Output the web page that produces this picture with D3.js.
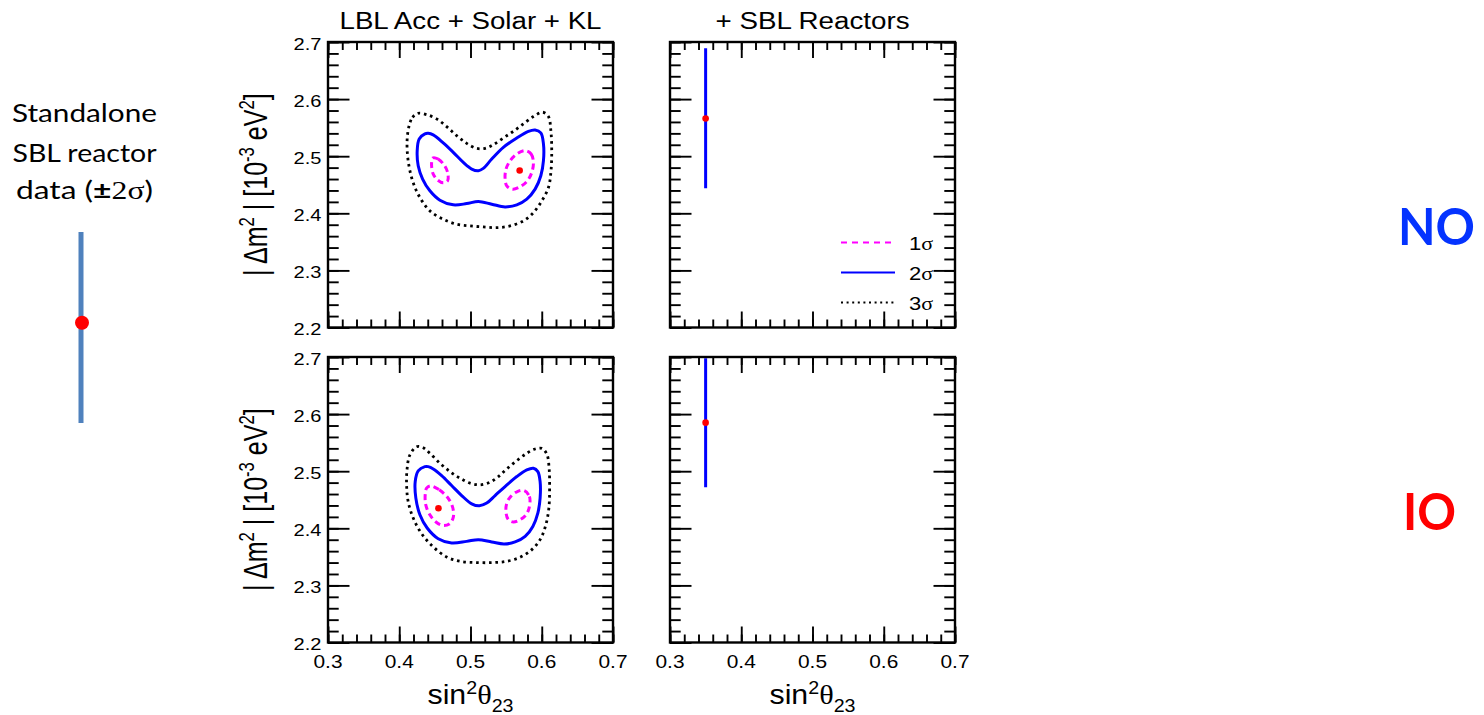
<!DOCTYPE html>
<html>
<head>
<meta charset="utf-8">
<script src="https://cdn.jsdelivr.net/npm/d3@7"></script>
<style>
  body { margin: 0; background: #fff; }
  svg { display: block; }
</style>
</head>
<body>
<svg id="fig" width="1484" height="715"></svg>
<script>
// ---- axis definitions ----
const xDomain = [0.3, 0.7];
const yDomain = [2.2, 2.7];
const xMajorTicks = [0.3, 0.4, 0.5, 0.6, 0.7];
const yMajorTicks = [2.2, 2.3, 2.4, 2.5, 2.6, 2.7];
const panelTitles = ["LBL Acc + Solar + KL", "+ SBL Reactors"];
const legendLevels = ["1", "2", "3"];
const orderingLabels = ["NO", "IO"];

// ---- allowed regions, normal ordering: [sin^2(theta23), |dm^2| (1e-3 eV^2)] ----
const noSigma1Left = [[0.4468,2.4968],[0.4547,2.495],[0.4627,2.4851],[0.4679,2.4715],[0.4679,2.457],[0.4617,2.4534],[0.4539,2.4582],[0.4477,2.4687],[0.4454,2.4833],[0.4458,2.4933]];
const noSigma1Right = [[0.5767,2.5097],[0.5851,2.5039],[0.5883,2.4891],[0.586,2.4715],[0.5799,2.457],[0.5696,2.4464],[0.5588,2.4423],[0.5509,2.4482],[0.5485,2.4617],[0.5499,2.4775],[0.5556,2.4921],[0.565,2.5039]];
const noSigma2 = [[0.4360,2.539],[0.4280,2.5302],[0.4252,2.5097],[0.4266,2.4833],[0.4328,2.460],[0.4430,2.4394],[0.4571,2.423],[0.4758,2.4148],[0.4946,2.417],[0.5110,2.4206],[0.5298,2.416],[0.5485,2.4112],[0.5650,2.4148],[0.5790,2.4248],[0.5907,2.4423],[0.5987,2.4657],[0.6024,2.4921],[0.6024,2.5214],[0.5987,2.5408],[0.5907,2.546],[0.5813,2.5436],[0.5650,2.532],[0.5461,2.5155],[0.5298,2.495],[0.518,2.4786],[0.511,2.4745],[0.5017,2.4775],[0.4899,2.4891],[0.4758,2.5067],[0.4617,2.5232],[0.4477,2.5373],[0.4406,2.540]];
const noSigma3 = [[0.4139,2.5536],[0.4187,2.5682],[0.4266,2.5752],[0.4384,2.5729],[0.4525,2.5654],[0.4665,2.5518],[0.4806,2.536],[0.4946,2.5225],[0.5087,2.5137],[0.5204,2.5137],[0.5321,2.5202],[0.5461,2.532],[0.5602,2.5436],[0.5743,2.5566],[0.5883,2.5694],[0.6015,2.577],[0.6094,2.5694],[0.6128,2.5448],[0.614,2.5097],[0.613,2.4745],[0.6094,2.4452],[0.6001,2.4218],[0.5883,2.4012],[0.5743,2.3867],[0.5556,2.3779],[0.5368,2.3749],[0.518,2.3761],[0.4993,2.3779],[0.4806,2.3808],[0.4617,2.3896],[0.443,2.4042],[0.429,2.4276],[0.4187,2.457],[0.4125,2.4921],[0.411,2.5272]];
const noBestFit = [0.569, 2.475];

// ---- allowed regions, inverted ordering ----
const ioSigma1Left = [[0.444,2.4743],[0.4561,2.4674],[0.4679,2.4539],[0.475,2.4365],[0.4758,2.419],[0.4702,2.4075],[0.4609,2.4051],[0.4515,2.411],[0.443,2.4237],[0.4374,2.44],[0.4364,2.4586],[0.4384,2.4703]];
const ioSigma1Right = [[0.5752,2.4661],[0.5827,2.4557],[0.5827,2.4382],[0.5781,2.4237],[0.5696,2.415],[0.5602,2.411],[0.5532,2.415],[0.5499,2.4267],[0.5509,2.4442],[0.5565,2.4557],[0.5658,2.4644]];
const ioSigma2 = [[0.4360,2.5080],[0.4266,2.5005],[0.4224,2.4818],[0.4233,2.4529],[0.429,2.4237],[0.4392,2.4005],[0.4547,2.3818],[0.4735,2.3743],[0.4946,2.3771],[0.511,2.3801],[0.5298,2.3761],[0.5471,2.3726],[0.5626,2.3761],[0.5767,2.3859],[0.5875,2.4033],[0.5945,2.4267],[0.5977,2.4529],[0.5977,2.4818],[0.5945,2.4993],[0.5883,2.5052],[0.579,2.5023],[0.565,2.4906],[0.5485,2.4731],[0.5345,2.4574],[0.5228,2.4442],[0.5124,2.4394],[0.5017,2.4429],[0.4876,2.4574],[0.4735,2.4749],[0.4595,2.4923],[0.4477,2.504],[0.4406,2.508]];
const ioSigma3 = [[0.4149,2.5284],[0.4243,2.5429],[0.4336,2.5412],[0.443,2.5314],[0.4571,2.514],[0.4712,2.4993],[0.4852,2.4878],[0.4993,2.4791],[0.5134,2.4761],[0.5274,2.4808],[0.5391,2.4906],[0.5509,2.504],[0.565,2.5185],[0.579,2.5314],[0.5907,2.5389],[0.6001,2.54],[0.6072,2.5297],[0.6104,2.504],[0.611,2.4703],[0.61,2.4354],[0.6058,2.4063],[0.5977,2.3801],[0.5861,2.3627],[0.5696,2.3492],[0.5509,2.3422],[0.5321,2.34],[0.5087,2.34],[0.4852,2.3422],[0.4665,2.3499],[0.4477,2.3674],[0.4314,2.3906],[0.4196,2.418],[0.4125,2.447],[0.4103,2.4761],[0.411,2.504]];
const ioBestFit = [0.455, 2.435];

// ---- combined fit with short-baseline reactors: best fit and 2 sigma range ----
const sblNO = { x: 0.35, best: 2.566, lo: 2.444, hi: 2.689 };
const sblIO = { x: 0.35, best: 2.585, lo: 2.472, hi: 2.698 };

// ---- standalone short-baseline reactor indicator (relative units, +-2 sigma) ----
const standalone = { best: 0.05, lo: -1, hi: 1 };

// ---------------------------------------------------------------
const SANS = "'Liberation Sans', Arial, Helvetica, sans-serif";
const SERIF = "'Liberation Serif', 'Times New Roman', serif";
const LATO = "Lato, 'Open Sans', sans-serif";
const SX = 1.16;            // horizontal stretch of the figure lettering
const svg = d3.select("#fig");

// text made of runs; each run: {t, size, shift, family, weight}
function richText(parent, x, y, runs, o) {
  const sx = o.sx == null ? SX : o.sx;
  const el = parent.append("text")
    .attr("transform", `translate(${x},${y}) scale(${sx},1)` + (o.rotate ? ` rotate(${o.rotate})` : ""))
    .attr("text-anchor", o.anchor || "start")
    .attr("font-family", o.family || SANS)
    .attr("font-size", o.size)
    .attr("font-weight", o.weight || "normal")
    .attr("fill", o.fill || "#000");
  if (o.length) el.attr("textLength", o.length / sx).attr("lengthAdjust", "spacingAndGlyphs");
  let prev = 0;
  runs.forEach(r => {
    const shift = r.shift || 0;
    const ts = el.append("tspan").text(r.t);
    if (shift !== prev) ts.attr("dy", shift - prev);
    if (r.size) ts.attr("font-size", r.size);
    if (r.family) ts.attr("font-family", r.family);
    if (r.weight) ts.attr("font-weight", r.weight);
    prev = shift;
  });
  return el;
}

// panel layout
const colX = [328, 670], panelW = 285;
const rowY = [42, 357], panelH = 285.5;

const xMinor = d3.ticks(xDomain[0], xDomain[1], 20);
const yMinor = d3.ticks(yDomain[0], yDomain[1], 25);

const closedCurve = d3.line().curve(d3.curveCatmullRomClosed.alpha(0.5));

const panels = [
  { row: 0, col: 0, s1: [noSigma1Left, noSigma1Right], s2: noSigma2, s3: noSigma3, best: noBestFit },
  { row: 0, col: 1, sbl: sblNO, legend: true },
  { row: 1, col: 0, s1: [ioSigma1Left, ioSigma1Right], s2: ioSigma2, s3: ioSigma3, best: ioBestFit },
  { row: 1, col: 1, sbl: sblIO }
];

const styles = {
  s1: { stroke: "#ff00ff", width: 3, dash: "6,4" },
  s2: { stroke: "#0000ff", width: 3, dash: null },
  s3: { stroke: "#000000", width: 2.8, dash: "2.6,3.8" }
};

panels.forEach((p, i) => {
  const x0 = colX[p.col], y0 = rowY[p.row];
  const x = d3.scaleLinear().domain(xDomain).range([x0, x0 + panelW]);
  const y = d3.scaleLinear().domain(yDomain).range([y0 + panelH, y0]);
  const g = svg.append("g");
  const clipId = "clip" + i;
  svg.append("clipPath").attr("id", clipId).append("rect")
    .attr("x", x0).attr("y", y0).attr("width", panelW).attr("height", panelH);
  const plot = g.append("g").attr("clip-path", `url(#${clipId})`);
  const pt = d => [x(d[0]), y(d[1])];

  if (p.s3) {
    [["s3", [p.s3]], ["s2", [p.s2]], ["s1", p.s1]].forEach(([k, rings]) => {
      const st = styles[k];
      rings.forEach(ring => {
        plot.append("path")
          .attr("d", closedCurve(ring.map(pt)))
          .attr("fill", "none")
          .attr("stroke", st.stroke)
          .attr("stroke-width", st.width)
          .attr("stroke-dasharray", st.dash);
      });
    });
    plot.append("circle").attr("cx", x(p.best[0])).attr("cy", y(p.best[1]))
      .attr("r", 3.3).attr("fill", "#ff0000");
  }
  if (p.sbl) {
    plot.append("line")
      .attr("x1", x(p.sbl.x)).attr("x2", x(p.sbl.x))
      .attr("y1", y(p.sbl.lo)).attr("y2", y(p.sbl.hi))
      .attr("stroke", "#0000ff").attr("stroke-width", 3);
    plot.append("circle").attr("cx", x(p.sbl.x)).attr("cy", y(p.sbl.best))
      .attr("r", 3.3).attr("fill", "#ff0000");
  }

  // inward ticks on all four sides
  const tickSets = [
    [d3.axisBottom(x), `translate(0,${y0 + panelH})`, xMajorTicks, xMinor, 16, 8],
    [d3.axisTop(x), `translate(0,${y0})`, xMajorTicks, xMinor, 16, 8],
    [d3.axisLeft(y), `translate(${x0},0)`, yMajorTicks, yMinor, 21.5, 10.7],
    [d3.axisRight(y), `translate(${x0 + panelW},0)`, yMajorTicks, yMinor, 21.5, 10.7]
  ];
  tickSets.forEach(([axisFn, tr, major, minor, lMaj, lMin]) => {
    [[minor, lMin], [major, lMaj]].forEach(([vals, len]) => {
      const ax = axisFn.tickValues(vals).tickSize(-len).tickFormat("");
      const a = g.append("g").attr("transform", tr).call(ax);
      a.select(".domain").remove();
      a.selectAll(".tick line").attr("stroke", "#000").attr("stroke-width", 1.9);
    });
  });

  g.append("rect").attr("x", x0).attr("y", y0).attr("width", panelW).attr("height", panelH)
    .attr("fill", "none").attr("stroke", "#000").attr("stroke-width", 2.4);

  // tick labels
  if (p.col === 0) {
    yMajorTicks.forEach(v => {
      richText(g, x0 - 6.5, y(v) + 7.5, [{ t: d3.format(".1f")(v) }], { size: 17.3, anchor: "end" });
    });
    richText(g, 266.5, y0 + panelH / 2, [
      { t: "| Δm" }, { t: "2", size: 18.5, shift: -11 }, { t: " | [10" }, { t: "-3", size: 18.5, shift: -11 },
      { t: " eV" }, { t: "2", size: 18.5, shift: -11 }, { t: "]" }
    ], { size: 28, anchor: "middle", rotate: -90, length: 212 });
  }
  if (p.row === 1) {
    xMajorTicks.forEach(v => {
      richText(g, x(v), 667.5, [{ t: d3.format(".1f")(v) }], { size: 18, anchor: "middle" });
    });
    richText(g, x0 + panelW / 2, 704, [
      { t: "sin" }, { t: "2", size: 17.5, shift: -10.5 }, { t: "θ", family: SERIF, shift: 0 },
      { t: "23", size: 17.5, shift: 7.5 }
    ], { size: 27, anchor: "middle", length: 86 });
  }
  if (p.row === 0) {
    richText(g, x0 + panelW / 2, 28.5, [{ t: panelTitles[p.col] }],
      { size: 23.5, anchor: "middle", length: p.col === 0 ? 262 : 194 });
  }

  if (p.legend) {
    const keys = ["s1", "s2", "s3"];
    const legW = { s1: 2.2, s2: 2.2, s3: 2 };
    const legDash = { s1: "6,5", s2: null, s3: "2,3.6" };
    const rowsY = [242.5, 272.5, 302.5];
    keys.forEach((k, j) => {
      g.append("line").attr("x1", 841).attr("x2", 895).attr("y1", rowsY[j]).attr("y2", rowsY[j])
        .attr("stroke", styles[k].stroke).attr("stroke-width", legW[k]).attr("stroke-dasharray", legDash[k]);
      richText(g, 909, rowsY[j] + 7.5, [{ t: legendLevels[j] }, { t: "σ", family: SERIF }], { size: 19 });
    });
  }
});

// ---- standalone reactor bar ----
const sY = d3.scaleLinear().domain([-1, 1]).range([423, 232]);
const sideX = 81;
svg.append("line").attr("x1", sideX).attr("x2", sideX)
  .attr("y1", sY(standalone.lo)).attr("y2", sY(standalone.hi))
  .attr("stroke", "#4f81bd").attr("stroke-width", 5);
svg.append("circle").attr("cx", sideX + 1).attr("cy", sY(standalone.best)).attr("r", 7).attr("fill", "#ff0000");

richText(svg, 84.5, 122, [{ t: "Standalone" }], { size: 24.5, anchor: "middle", family: LATO, sx: 1, length: 145 });
richText(svg, 84.5, 161.5, [{ t: "SBL reactor" }], { size: 24.5, anchor: "middle", family: LATO, sx: 1, length: 144 });
richText(svg, 84.5, 199, [
  { t: "data (" }, { t: "±", weight: "bold" }, { t: "2σ", family: SERIF }, { t: ")" }
], { size: 24.5, anchor: "middle", family: LATO, sx: 1, length: 137 });

// ---- mass ordering labels ----
richText(svg, 1436.5, 245, [{ t: orderingLabels[0] }], { size: 51.5, anchor: "middle", family: LATO, weight: "bold", fill: "#0433ff", sx: 1, length: 77 });
richText(svg, 1429.5, 530, [{ t: orderingLabels[1] }], { size: 51.5, anchor: "middle", family: LATO, weight: "bold", fill: "#ff0000", sx: 1, length: 53 });
</script>
</body>
</html>
